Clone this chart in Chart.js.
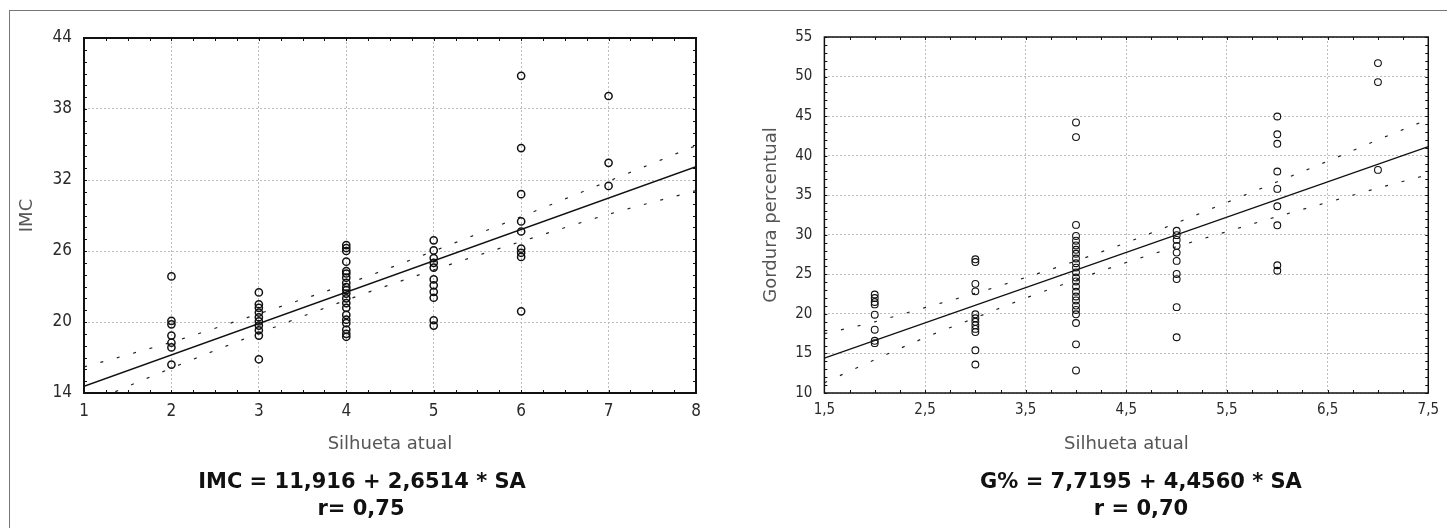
<!DOCTYPE html>
<html>
<head>
<meta charset="utf-8">
<script src="https://cdn.jsdelivr.net/npm/chart.js@4"></script>
<style>
body { margin: 0; background: #fff; width: 1447px; height: 528px; overflow: hidden; position: relative; font-family: 'DejaVu Sans', sans-serif; }
#frame { position: absolute; left: 9px; top: 10px; width: 1460px; height: 540px; border-top: 1px solid #777; border-left: 1px solid #777; }
canvas { position: absolute; top: 0; }
.eq { position: absolute; font-weight: bold; font-size: 21px; line-height: 1; color: #111; transform: translateX(-50%); white-space: nowrap; }
</style>
</head>
<body>
<div id="frame"></div>
<canvas id="imcChart" width="720" height="528" style="left:0"></canvas>
<canvas id="gordChart" width="727" height="528" style="left:720px"></canvas>
<div class="eq" style="left:362px;top:471px">IMC = 11,916 + 2,6514 * SA</div>
<div class="eq" style="left:361px;top:498px">r= 0,75</div>
<div class="eq" style="left:1141px;top:471px">G% = 7,7195 + 4,4560 * SA</div>
<div class="eq" style="left:1141px;top:498px">r = 0,70</div>
<script>
// IMC by silhueta atual (left chart)
var imc2 = [23.85, 20.1, 19.8, 18.85, 18.25, 17.85, 16.4];
var imc3 = [22.5, 21.5, 21.2, 20.8, 20.4, 20.05, 19.7, 19.3, 18.85, 16.85];
var imc4 = [26.5, 26.25, 26.0, 25.1, 24.3, 24.1, 23.75, 23.3, 22.95, 22.7, 22.4, 22.0, 21.6, 21.2, 20.6, 20.2, 19.9, 19.35, 19.0, 18.75];
var imc5 = [26.9, 26.05, 25.4, 25.0, 24.6, 23.6, 23.1, 22.55, 22.05, 20.15, 19.7];
var imc6 = [40.8, 34.7, 30.8, 28.5, 27.65, 26.2, 25.85, 25.5, 20.9];
var imc7 = [39.1, 33.45, 31.5];
var imcFitX = [1, 8];
var imcFitY = [14.57, 33.13];
var imcBandX = [1, 2, 3, 4, 5, 6, 7, 8];
var imcUpper = [16.2, 18.3, 20.7, 23.2, 26.0, 28.9, 31.9, 34.9];
var imcLower = [13.0, 16.1, 19.05, 21.85, 24.4, 26.8, 29.1, 31.1];
var imcYTicks = [14, 20, 26, 32, 38, 44];

// Gordura percentual by silhueta atual (right chart)
var gord2 = [22.45, 22.0, 21.5, 21.2, 19.9, 18.0, 16.6, 16.3];
var gord3 = [26.9, 26.55, 23.8, 22.85, 19.95, 19.45, 19.0, 18.55, 18.1, 17.7, 15.4, 13.6];
var gord4 = [44.2, 42.35, 31.25, 29.85, 29.25, 28.65, 28.1, 27.6, 27.0, 26.4, 25.85, 25.25, 24.6, 24.1, 23.45, 22.8, 22.2, 21.7, 21.05, 20.5, 19.95, 18.85, 16.15, 12.85];
var gord5 = [30.5, 29.95, 29.35, 28.6, 27.75, 26.7, 25.05, 24.4, 20.85, 17.05];
var gord6 = [44.95, 42.7, 41.5, 38.0, 35.8, 33.6, 31.2, 26.15, 25.45];
var gord7 = [51.7, 49.3, 38.2];
var gordFitX = [1.5, 7.5];
var gordFitY = [14.4, 41.15];
var gordBandX = [1.5, 2, 2.5, 3, 3.5, 4, 4.5, 5, 5.5, 6, 6.5, 7, 7.5];
var gordUpper = [17.5, 19.0, 20.8, 22.6, 24.6, 26.7, 29.0, 31.5, 34.1, 36.7, 39.3, 42.0, 44.6];
var gordLower = [11.3, 14.2, 17.0, 19.5, 22.0, 24.3, 26.5, 28.5, 30.4, 32.3, 34.1, 35.9, 37.6];

var silhuetas = [2, 3, 4, 5, 6, 7];

function columnsToPoints(cols) {
    let pts = [];
    for (let i = 0; i < silhuetas.length; i++) {
        for (let j = 0; j < cols[i].length; j++) {
            pts.push({x: silhuetas[i], y: cols[i][j]});
        }
    }
    return pts;
}

function pairs(xs, ys) {
    let pts = [];
    for (let i = 0; i < xs.length; i++) {
        pts.push({x: xs[i], y: ys[i]});
    }
    return pts;
}

// box frame with small inward ticks on all four sides
var frameTicks = {
    id: 'frameTicks',
    afterDatasetsDraw(chart, args, opts) {
        const ctx = chart.ctx;
        const a = chart.chartArea;
        const x = chart.scales.x, y = chart.scales.y;
        ctx.save();
        ctx.strokeStyle = '#111';
        ctx.lineWidth = 1;
        ctx.beginPath();
        let n = Math.round((x.max - x.min) / opts.xStep);
        for (let i = 0; i <= n; i++) {
            let px = Math.round(x.getPixelForValue(x.min + i * opts.xStep)) + 0.5;
            ctx.moveTo(px, a.bottom); ctx.lineTo(px, a.bottom - opts.len);
            ctx.moveTo(px, a.top); ctx.lineTo(px, a.top + opts.len);
        }
        n = Math.round((y.max - y.min) / opts.yStep);
        for (let i = 0; i <= n; i++) {
            let py = Math.round(y.getPixelForValue(y.min + i * opts.yStep)) + 0.5;
            ctx.moveTo(a.left, py); ctx.lineTo(a.left + opts.len, py);
            ctx.moveTo(a.right, py); ctx.lineTo(a.right - opts.len, py);
        }
        ctx.stroke();
        ctx.lineWidth = opts.width;
        ctx.strokeRect(a.left, a.top, a.right - a.left, a.bottom - a.top);
        ctx.restore();
    }
};

var tickFont = (size) => ({family: "'DejaVu Sans Condensed', 'DejaVu Sans', sans-serif", size: size});
var titleFont = {family: "'DejaVu Sans', sans-serif", size: 18, weight: 'normal'};

function makeChart(canvasId, cfg) {
    let pointData = columnsToPoints(cfg.cols);
    return new Chart(document.getElementById(canvasId).getContext('2d'), {
        type: 'scatter',
        data: {
            datasets: [
                {data: pointData, pointStyle: 'circle', pointRadius: cfg.pointR, pointBorderWidth: cfg.pointW,
                 borderColor: '#111', backgroundColor: 'rgba(0,0,0,0)', pointHoverRadius: cfg.pointR},
                {data: pairs(cfg.fitX, cfg.fitY), showLine: true, pointRadius: 0, borderColor: '#111', borderWidth: cfg.fitW},
                {data: pairs(cfg.bandX, cfg.upper), showLine: true, pointRadius: 0, borderColor: '#222',
                 borderWidth: 1.2, borderDash: [3, 14], cubicInterpolationMode: 'monotone'},
                {data: pairs(cfg.bandX, cfg.lower), showLine: true, pointRadius: 0, borderColor: '#222',
                 borderWidth: 1.2, borderDash: [3, 14], cubicInterpolationMode: 'monotone'}
            ]
        },
        options: {
            responsive: false,
            animation: false,
            events: [],
            layout: {padding: cfg.pad},
            plugins: {
                legend: {display: false},
                tooltip: {enabled: false},
                frameTicks: {xStep: cfg.xMinor, yStep: cfg.yMinor, len: 3, width: cfg.frameW}
            },
            scales: {
                x: {
                    type: 'linear', min: cfg.xMin, max: cfg.xMax,
                    afterFit: (s) => { s.height = cfg.xHeight; },
                    grid: {color: '#bdbdbd', lineWidth: 1, drawTicks: false},
                    border: {display: false, dash: [2, 2]},
                    ticks: {stepSize: cfg.xStep, padding: 8, color: '#2a2a2a', font: tickFont(cfg.tickSize),
                            callback: cfg.fmt},
                    title: {display: true, text: 'Silhueta atual', color: '#555', font: titleFont, padding: 0}
                },
                y: {
                    min: cfg.yMin, max: cfg.yMax,
                    afterFit: (s) => { s.width = cfg.yWidth; },
                    grid: {color: '#bdbdbd', lineWidth: 1, drawTicks: false},
                    border: {display: false, dash: [2, 2]},
                    ticks: {stepSize: cfg.yStep, padding: 12, color: '#2a2a2a', font: tickFont(cfg.tickSize)},
                    title: {display: true, text: cfg.yTitle, color: '#555', font: titleFont, padding: {top: cfg.yTitlePad, bottom: 0}}
                }
            }
        },
        plugins: [frameTicks]
    });
}

makeChart('imcChart', {
    cols: [imc2, imc3, imc4, imc5, imc6, imc7],
    fitX: imcFitX, fitY: imcFitY, bandX: imcBandX, upper: imcUpper, lower: imcLower,
    xMin: 1, xMax: 8, xStep: 1, xMinor: 0.25,
    yMin: imcYTicks[0], yMax: imcYTicks[imcYTicks.length - 1], yStep: 6, yMinor: 1,
    yTitle: 'IMC', yTitlePad: 17, yWidth: 84, xHeight: 62,
    pad: {left: 0, top: 38, right: 24, bottom: 73},
    tickSize: 17, pointR: 3.6, pointW: 1.5, fitW: 1.6, frameW: 2,
    fmt: (v) => v
});

makeChart('gordChart', {
    cols: [gord2, gord3, gord4, gord5, gord6, gord7],
    fitX: gordFitX, fitY: gordFitY, bandX: gordBandX, upper: gordUpper, lower: gordLower,
    xMin: 1.5, xMax: 7.5, xStep: 1, xMinor: 0.25,
    yMin: 10, yMax: 55, yStep: 5, yMinor: 1,
    yTitle: 'Gordura percentual', yTitlePad: 41, yWidth: 104.4, xHeight: 62,
    pad: {left: 0, top: 37, right: 14.7, bottom: 73},
    tickSize: 15, pointR: 3.4, pointW: 1.1, fitW: 1.2, frameW: 1.5,
    fmt: (v) => v.toFixed(1).replace('.', ',')
});
</script>
</body>
</html>
